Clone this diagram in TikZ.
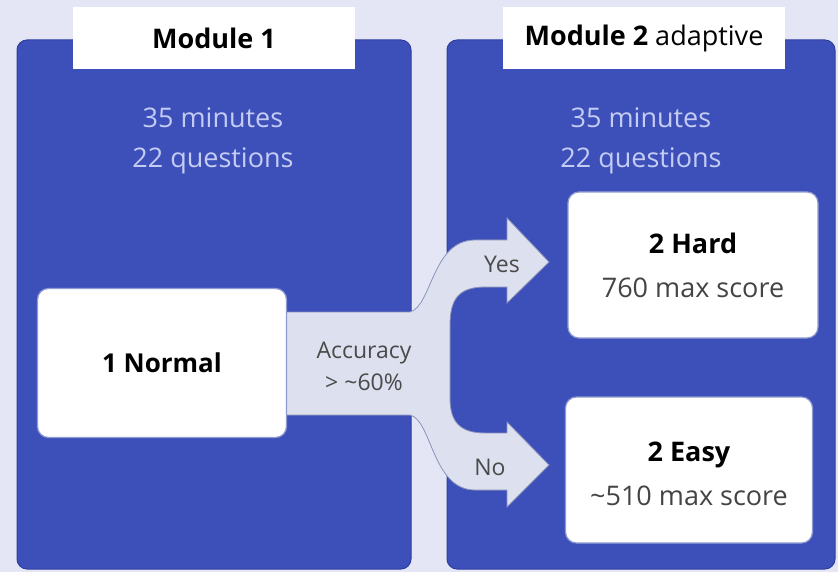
\documentclass[tikz,border=0pt]{standalone}
\usepackage{fontspec}
\setmainfont{Open Sans}
\definecolor{bgc}{HTML}{E4E6F5}
\definecolor{panel}{HTML}{3D50BA}
\definecolor{panelEdge}{HTML}{2F3F9E}
\definecolor{paneltxt}{HTML}{C4CCF4}
\definecolor{arrowc}{HTML}{DDE0EE}
\definecolor{arrowedge}{HTML}{8C93B8}
\definecolor{boxedge}{HTML}{8E9AD0}
\definecolor{labtxt}{HTML}{4A4A4A}
\definecolor{scoretxt}{HTML}{444444}
\begin{document}
\begin{tikzpicture}[x=1pt,y=-1pt,
  panelbox/.style={fill=panel,draw=panelEdge,line width=1pt,rounded corners=10pt},
  tabbox/.style={fill=white,draw=none,minimum width=282pt,minimum height=62pt,inner sep=0pt,font=\fontsize{27}{32}\selectfont},
  cardbox/.style={fill=white,draw=boxedge,line width=1.2pt,rounded corners=11pt,inner sep=0pt,align=center},
  infotxt/.style={text=paneltxt,font=\fontsize{27}{40}\selectfont,align=center},
  lab/.style={text=labtxt,font=\fontsize{23}{32}\selectfont,align=center},
  cardtxt/.style={align=center,font=\fontsize{27}{44}\selectfont}]
\useasboundingbox (0,0) rectangle (838,572);
\fill[bgc] (0,0) rectangle (838,572);
% panels
\draw[panelbox] (17,40) rectangle (411,569);
\draw[panelbox] (447,40) rectangle (835,569);
% tabs
\node[tabbox] (tab1) at (214,38) {\bfseries Module 1};
\node[tabbox] (tab2) at (644,38) {\textbf{Module 2} adaptive};
% info
\node[infotxt] (info1) at (213,141) {35 minutes\\22 questions};
\node[infotxt] (info2) at (641,141) {35 minutes\\22 questions};
% arrow
\filldraw[fill=arrowc,draw=arrowedge,line width=0.8pt]
  (280,312) -- (410,312) .. controls (432,306) and (432,240) .. (475,240)
  -- (507,240) -- (507,218) -- (549,262) -- (507,303) -- (507,287) -- (485,287)
  .. controls (458,287) and (450,300) .. (450,325) -- (450,398)
  .. controls (450,422) and (460,433) .. (485,433) -- (507,433) -- (507,422)
  -- (549,465) -- (507,507) -- (507,490) -- (475,490)
  .. controls (432,490) and (432,420) .. (410,415) -- (280,415) -- cycle;
% cards
\node[cardbox,minimum width=249pt,minimum height=149pt] (normal) at (162,363)
  {\fontsize{26}{30}\selectfont\bfseries 1 Normal};
\node[cardbox,minimum width=250pt,minimum height=146pt] (hard) at (693,265) {};
\node[cardtxt] (hardtxt) at (hard.center)
  {\textbf{2 Hard}\\\textcolor{scoretxt}{\fontsize{27}{44}\selectfont 760 max score}};
\node[cardbox,minimum width=247pt,minimum height=146pt] (easy) at (689,470) {};
\node[cardtxt] (easytxt) at ([yshift=-4pt]easy.center)
  {\textbf{2 Easy}\\\textcolor{scoretxt}{\fontsize{27}{44}\selectfont \textasciitilde510 max score}};
% labels
\node[lab] (acc) at (364,366) {Accuracy\\> \textasciitilde60\%};
\node[lab] (yes) at (502,264) {Yes};
\node[lab] (no) at (490,467) {No};
\end{tikzpicture}
\end{document}
